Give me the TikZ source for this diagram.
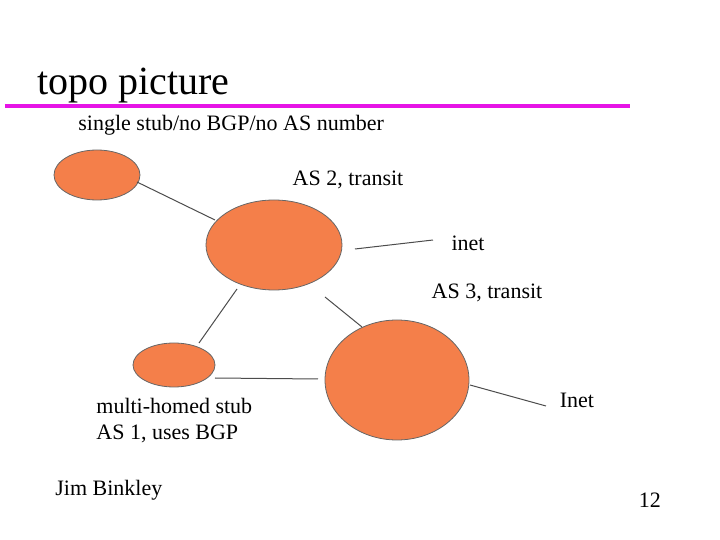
\documentclass[tikz,border=0pt]{standalone}
\usepackage{fontspec}
\setmainfont{Liberation Serif}
\usetikzlibrary{shapes.geometric}
\begin{document}
\begin{tikzpicture}[x=0.5pt,y=-0.5pt,
  blob/.style={draw=black!60,line width=0.4pt},
  conn/.style={draw=black!70,line width=0.5pt},
  lbl/.style={font=\fontsize{11}{13}\selectfont,inner sep=0pt}]
\definecolor{blobc}{HTML}{F47F4A}
\useasboundingbox (0,0) rectangle (720,540);
\node[anchor=base west,inner sep=0pt,font=\fontsize{20}{24}\selectfont] (title) at (37,95) {topo picture};
\coordinate (ml) at (5,106); \coordinate (mr) at (630,106);
\draw[draw={rgb,255:red,230;green,20;blue,230},line width=2pt] (ml) -- (mr);
\node[lbl,anchor=west] (sub) at (78,125) {single stub/no BGP/no AS number};
\node[blob,fill=blobc,ellipse,minimum width=43pt,minimum height=25pt,inner sep=0pt] (e1) at (97,175) {};
\node[blob,fill=blobc,ellipse,minimum width=68pt,minimum height=45pt,inner sep=0pt] (e2) at (274,245) {};
\node[blob,fill=blobc,ellipse,minimum width=41pt,minimum height=22pt,inner sep=0pt] (e3) at (174,365) {};
\node[blob,fill=blobc,ellipse,minimum width=72pt,minimum height=60pt,inner sep=0pt] (e4) at (397,380) {};
\node[lbl] (as2) at (348,180) {AS 2, transit};
\node[lbl] (inet) at (468,243) {inet};
\node[lbl] (as3) at (487,293) {AS 3, transit};
\node[lbl] (Inet) at (577,400) {Inet};
\node[lbl,anchor=west,align=left] (as1) at (96,421) {multi-homed stub\\AS 1, uses BGP};
\node[lbl,anchor=west] (jim) at (55,490) {Jim Binkley};
\node[lbl] (num) at (650,500) {12};
\coordinate (a1) at (137,182); \coordinate (a2) at (215,220);
\coordinate (b1) at (355,249); \coordinate (b2) at (433,240);
\coordinate (c1) at (325,297); \coordinate (c2) at (362,327);
\coordinate (d1) at (237,289); \coordinate (d2) at (199,343);
\coordinate (f1) at (215,378); \coordinate (f2) at (318,379);
\coordinate (g1) at (470,385); \coordinate (g2) at (546,406);
\draw[conn] (a1)--(a2); \draw[conn] (b1)--(b2); \draw[conn] (c1)--(c2);
\draw[conn] (d1)--(d2); \draw[conn] (f1)--(f2); \draw[conn] (g1)--(g2);
\end{tikzpicture}
\end{document}
